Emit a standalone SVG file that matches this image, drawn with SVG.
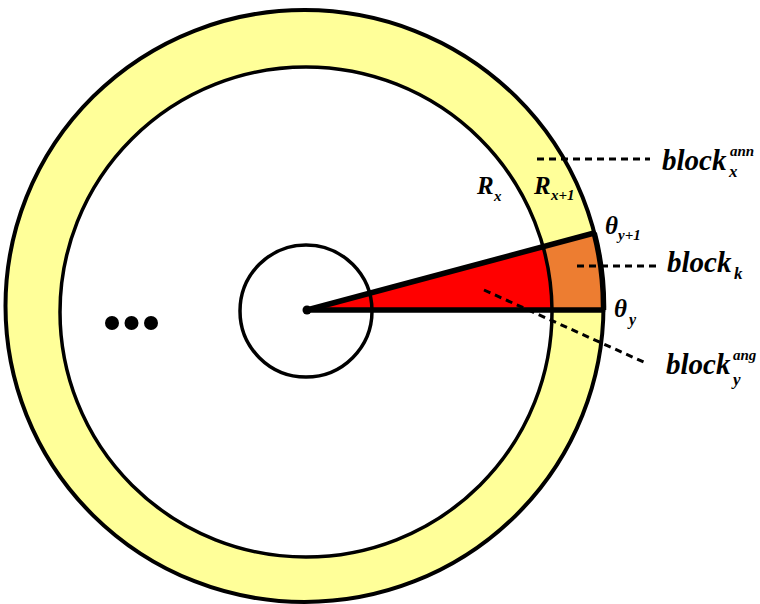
<svg xmlns="http://www.w3.org/2000/svg" width="760" height="604" viewBox="0 0 760 604">
<style>
.t{font-family:"Liberation Serif","Times New Roman",serif;font-weight:bold;font-style:italic;fill:#000}
.dash{stroke:#000;stroke-width:3;stroke-dasharray:7 5;fill:none}
.ln{stroke:#000;fill:none}
</style>
<rect width="760" height="604" fill="#fff"/>
<g id="outer-ring">
<ellipse cx="304.5" cy="306" rx="299" ry="296" fill="#FFFF99" stroke="#000" stroke-width="4"/>
</g>
<g id="inner-disc">
<ellipse cx="306" cy="312" rx="246" ry="245" fill="#fff" stroke="#000" stroke-width="3.5"/>
</g>
<g id="wedge">
<path d="M307,310 L543.1,246.7 A246,245 0 0 1 552,310 Z" fill="#FF0000"/>
</g>
<g id="block-k">
<path d="M543.1,246.7 L594.2,233 A299,296 0 0 1 603.5,310 L552,310 A246,245 0 0 0 543.1,246.7 Z" fill="#ED7D31" stroke="#000" stroke-width="3.5"/>
<path class="ln" d="M594.2,233 A299,296 0 0 1 603.5,310" stroke-width="5.5"/>
</g>
<g id="center-circle">
<circle cx="306" cy="311" r="66" fill="none" stroke="#000" stroke-width="3.5"/>
</g>
<g id="radii">
<line class="ln" x1="307" y1="310" x2="603.5" y2="310" stroke-width="5.5"/>
<line class="ln" x1="307" y1="310" x2="594.2" y2="233" stroke-width="5.5"/>
<circle cx="307" cy="310" r="4.5" fill="#000"/>
</g>
<g id="ellipsis">
<circle cx="112" cy="323" r="7" fill="#000"/>
<circle cx="131.5" cy="323" r="7" fill="#000"/>
<circle cx="151" cy="323" r="7" fill="#000"/>
</g>
<g id="connectors">
<line class="dash" x1="537" y1="159" x2="650" y2="159"/>
<line class="dash" x1="577" y1="266" x2="658" y2="266"/>
<line class="dash" x1="484" y1="290" x2="648" y2="364"/>
</g>
<g id="label-Rx">
<text class="t" x="477" y="194" font-size="25">R</text>
<text class="t" x="494" y="201" font-size="15">x</text>
</g>
<g id="label-Rx1">
<text class="t" x="534" y="194" font-size="25">R</text>
<text class="t" x="551" y="200" font-size="15">x+1</text>
</g>
<g id="label-theta-y1">
<text class="t" x="605" y="234" font-size="25">θ</text>
<text class="t" x="618" y="240" font-size="15">y+1</text>
</g>
<g id="label-theta-y">
<text class="t" x="614" y="317" font-size="25">θ</text>
<text class="t" x="629" y="325" font-size="16">y</text>
</g>
<g id="label-block-ann">
<text class="t" x="662" y="170" font-size="29">block</text>
<text class="t" x="729" y="177" font-size="17">x</text>
<text class="t" x="730" y="156" font-size="15">ann</text>
</g>
<g id="label-block-k">
<text class="t" x="667" y="272" font-size="29">block</text>
<text class="t" x="734" y="279" font-size="17">k</text>
</g>
<g id="label-block-ang">
<text class="t" x="666" y="374" font-size="29">block</text>
<text class="t" x="733" y="360" font-size="15">ang</text>
<text class="t" x="733" y="385" font-size="17">y</text>
</g>
</svg>
